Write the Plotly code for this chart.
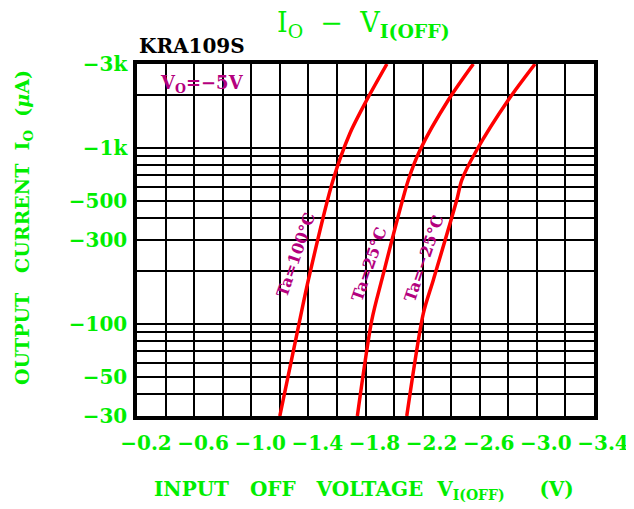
import math
import plotly.graph_objects as go

# ---- data ----
v_100 = [-1.20, -1.325, -1.40, -1.573, -1.692, -1.809, -1.95]
i_100 = [30, 92, 178, 657, 1216, 1873, 3000]

v_25 = [-1.743, -1.844, -1.914, -2.100, -2.182, -2.380, -2.555]
i_25 = [30, 105, 178, 657, 974, 1873, 3000]

v_m25 = [-2.089, -2.205, -2.275, -2.439, -2.474, -2.579, -2.800, -2.987]
i_m25 = [30, 115, 178, 506, 657, 974, 1873, 3000]

x_ticks = [-0.2, -0.6, -1.0, -1.4, -1.8, -2.2, -2.6, -3.0, -3.4]
x_ticktext = ["−0.2", "−0.6", "−1.0", "−1.4", "−1.8", "−2.2", "−2.6", "−3.0", "−3.4"]
x_minor = [-0.4, -0.8, -1.2, -1.6, -2.0, -2.4, -2.8, -3.2]

y_ticks = [30, 50, 100, 300, 500, 1000, 3000]
y_ticktext = ["−30", "−50", "−100", "−300", "−500", "−1k", "−3k"]
y_minor = [40, 60, 70, 80, 90, 200, 400, 600, 700, 800, 900, 2000]

labels = ["Ta=100°C", "Ta=25°C", "Ta=−25°C"]
label_v = [-1.315, -1.822, -2.207]
label_i = [247, 219, 237]

GREEN = "#00EE00"
MAG = "#B4007E"
FONT = "DejaVu Serif"

fig = go.Figure()
for vv, ii in [(v_100, i_100), (v_25, i_25), (v_m25, i_m25)]:
    fig.add_trace(go.Scatter(x=vv, y=ii, mode="lines",
                             line=dict(color="#FF0000", width=3.5, shape="spline", smoothing=0.8),
                             showlegend=False, hoverinfo="skip"))

# page body has an 8px default margin, so the figure is sized/offset to compensate
fig.update_layout(
    width=626, height=501,
    margin=dict(l=129, r=40, t=56, b=93),
    paper_bgcolor="white", plot_bgcolor="white",
    font=dict(family=FONT),
    xaxis=dict(range=[-0.2, -3.4], tickmode="array", tickvals=x_ticks, ticktext=x_ticktext,
               showgrid=True, gridcolor="black", gridwidth=1.5,
               minor=dict(tickmode="array", tickvals=x_minor, showgrid=True, gridcolor="black", gridwidth=1.5),
               showline=True, linecolor="black", linewidth=3.5, mirror=True, automargin=False,
               ticks="", zeroline=False, ticklabelstandoff=6, ticklabelshift=-9,
               tickfont=dict(family=FONT, size=20, color=GREEN, weight="bold")),
    yaxis=dict(type="log", range=[math.log10(30), math.log10(3000)], tickmode="array",
               tickvals=y_ticks, ticktext=y_ticktext, automargin=False,
               showgrid=True, gridcolor="black", gridwidth=2,
               minor=dict(tickmode="array", tickvals=y_minor, showgrid=True, gridcolor="black", gridwidth=2),
               showline=True, linecolor="black", linewidth=3.5, mirror=True,
               ticks="", zeroline=False, ticklabelstandoff=2,
               tickfont=dict(family=FONT, size=20, color=GREEN, weight="bold")),
)

# white box for V0 label
fig.add_shape(type="rect", xref="x", yref="y", x0=-0.2, x1=-1.2,
              y0=math.log10(2000), y1=math.log10(3000),
              fillcolor="white", line=dict(color="black", width=2), layer="between")

for t, vx, iy in zip(labels, label_v, label_i):
    fig.add_annotation(x=vx, y=math.log10(iy), xref="x", yref="y", text=t, showarrow=False,
                       textangle=-71, font=dict(family=FONT, size=16, color=MAG, weight="bold"))

fig.add_annotation(x=-0.35, y=math.log10(2300), xref="x", yref="y", xanchor="left",
                   text="V<sub>O</sub>=−5V", showarrow=False,
                   font=dict(family=FONT, size=18, color=MAG, weight="bold"))

fig.add_annotation(xref="paper", yref="paper", x=0.0, y=1.0, yshift=4, xanchor="left", yanchor="bottom",
                   text="KRA109S", showarrow=False,
                   font=dict(family=FONT, size=20, color="black", weight="bold"))

fig.add_annotation(xref="paper", yref="paper", x=0.495, y=1.0, yshift=20, xanchor="center", yanchor="bottom",
                   text="I<sub>O</sub>&nbsp;&nbsp;−&nbsp;&nbsp;V<sub><b>I(OFF)</b></sub>", showarrow=False,
                   font=dict(family=FONT, size=27, color=GREEN))

fig.add_annotation(xref="paper", yref="paper", x=0.497, y=0.0, yshift=-74, xanchor="center", yanchor="middle",
                   text="INPUT&nbsp;&nbsp;&nbsp;OFF&nbsp;&nbsp;&nbsp;VOLTAGE&nbsp;&nbsp;V<sub>I(OFF)</sub>&nbsp;&nbsp;&nbsp;&nbsp;&nbsp;(V)",
                   showarrow=False, font=dict(family=FONT, size=20, color=GREEN, weight="bold"))

fig.add_annotation(xref="paper", yref="paper", x=0.0, xshift=-114, y=0.534, xanchor="center", yanchor="middle",
                   textangle=-90, text="OUTPUT&nbsp;&nbsp;&nbsp;CURRENT&nbsp;&nbsp;I<sub>O</sub>&nbsp;&nbsp;(<i>μ</i>A)",
                   showarrow=False, font=dict(family=FONT, size=19, color=GREEN, weight="bold"))

fig.write_html("out.html")
